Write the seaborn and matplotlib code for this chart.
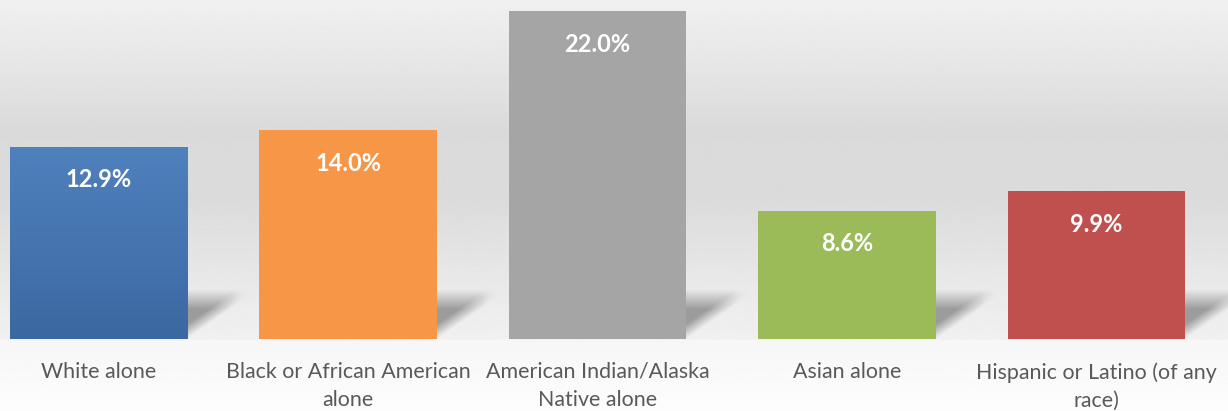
import numpy as np
import pandas as pd
import matplotlib.pyplot as plt
import matplotlib.colors as mcolors
import seaborn as sns

# data
categories = ['White alone', 'Black or African American\nalone', 'American Indian/Alaska\nNative alone',
              'Asian alone', 'Hispanic or Latino (of any\nrace)']
values = [12.9, 14.0, 22.0, 8.6, 9.9]
bar_colors = ['#4f81bd', '#f79646', '#a5a5a5', '#9bbb59', '#c0504d']

df = pd.DataFrame({'group': categories, 'pct': values})

sns.set_style('white')
plt.rcParams['font.family'] = ['Lato', 'DejaVu Sans']

fig = plt.figure(figsize=(12.28, 4.11), dpi=100)

# background gradient (whole figure)
bg = fig.add_axes([0, 0, 1, 1], zorder=0)
stops_y = [0, 60, 130, 200, 290, 338, 340, 411]
stops_g = [240, 231, 218, 219, 234, 240, 246, 253]
yy = np.arange(411)
grey = np.interp(yy, stops_y, stops_g) / 255.0
bg.imshow(np.repeat(grey[:, None], 2, axis=1), cmap='gray', vmin=0, vmax=1,
          aspect='auto', extent=[0, 1, 1, 0], interpolation='bilinear')
bg.set_xlim(0, 1)
bg.set_ylim(1, 0)
bg.axis('off')

ax = fig.add_axes([0, 72 / 411, 1, 339 / 411], zorder=1)
ax.patch.set_alpha(0)

sns.barplot(data=df, x='group', y='pct', hue='group', palette=bar_colors,
            width=0.71, legend=False, ax=ax, saturation=1)

ax.set_xlim(-0.395, 4.527)
ax.set_ylim(0, 22.75)

# soft shadows behind the bars
for i, p in enumerate(ax.patches):
    x0, w, h = p.get_x(), p.get_width(), p.get_height()
    right = x0 + w
    sw, sh = 0.26, 3.3
    n = 80
    u = np.linspace(0, 1, n)[None, :]
    v = np.linspace(1, 0, n)[:, None]
    a = np.clip((v - u * 0.9) / 0.3, 0, 1) * np.clip((1 - v) / 0.4, 0, 1) * np.clip((1 - u) / 0.3, 0, 1)
    img = np.zeros((n, n, 4))
    img[..., :3] = 0.4
    img[..., 3] = a * 0.6
    ax.imshow(img, extent=[right, right + sw, 0, sh], aspect='auto', zorder=0.5,
              interpolation='bilinear')
    p.set_zorder(2)
    p.set_edgecolor('none')

# blue bar gradient
p0 = ax.patches[0]
cmap = mcolors.LinearSegmentedColormap.from_list('blu', ['#3c68a1', '#4f81bd'])
grad = np.linspace(0, 1, 100)[:, None]
im = ax.imshow(grad[::-1], cmap=cmap, aspect='auto', origin='upper',
               extent=[p0.get_x(), p0.get_x() + p0.get_width(), 0, p0.get_height()], zorder=2.5)
im.set_clip_path(p0)

ax.set_xlim(-0.395, 4.527)
ax.set_ylim(0, 22.75)

for i, v in enumerate(values):
    ax.annotate(f'{v:.1f}%', (i, v), xytext=(0, -33), textcoords='offset pixels',
                ha='center', va='center', color='white', fontsize=17, fontweight='bold', zorder=5)

ax.set_xlabel('')
ax.set_ylabel('')
ax.set_yticks([])
ax.tick_params(axis='x', length=0, pad=16.5, labelsize=15.4, labelcolor='#595959')
for lab in ax.get_xticklabels():
    lab.set_linespacing(1.5)
    lab.set_verticalalignment('top')
sns.despine(ax=ax, left=True, bottom=True, top=True, right=True)

fig.savefig('out.png', dpi=100)
